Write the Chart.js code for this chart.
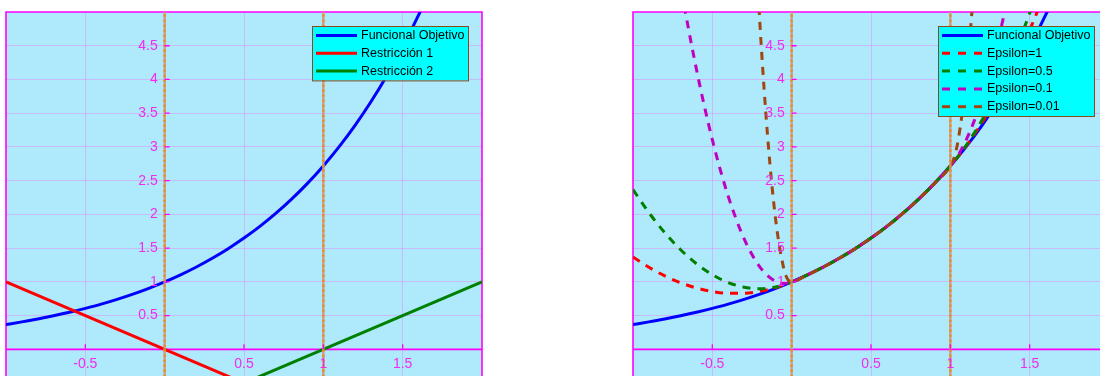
<!DOCTYPE html>
<html lang="es">
<head>
    <meta charset="UTF-8">
    <title>Funcional objetivo y penalización</title>
    <script src="https://cdn.jsdelivr.net/npm/chart.js@4.4.0/dist/chart.umd.min.js"></script>
    <style>
        body {
            margin: 0;
            width: 1100px;
            height: 376px;
            overflow: hidden;
            background: #fff;
            position: relative;
        }
        canvas {
            position: absolute;
            top: 0;
        }
        #leftChart { left: 0; }
        #rightChart { left: 627px; }
    </style>
</head>
<body>
    <canvas id="leftChart" width="490" height="376"></canvas>
    <canvas id="rightChart" width="490" height="376"></canvas>

    <script>
        // axis ticks / grid
        const xTickLabels = [-0.5, 0.5, 1, 1.5];
        const yTickLabels = [0.5, 1, 1.5, 2, 2.5, 3, 3.5, 4, 4.5];
        const gridX = [-0.5, 0, 0.5, 1, 1.5];
        const gridY = [0.5, 1, 1.5, 2, 2.5, 3, 3.5, 4, 4.5];
        const vLines = [0, 1];

        // Funcional Objetivo
        const xObj = [-1, -0.9, -0.8, -0.7, -0.6, -0.5, -0.4, -0.3, -0.2, -0.1, 0, 0.1, 0.2, 0.3, 0.4, 0.5, 0.6, 0.7, 0.8, 0.9, 1, 1.1, 1.2, 1.3, 1.4, 1.5, 1.6, 1.7, 1.8, 1.9, 2];
        const yObj = [0.368, 0.407, 0.449, 0.497, 0.549, 0.607, 0.670, 0.741, 0.819, 0.905, 1.000, 1.105, 1.221, 1.350, 1.492, 1.649, 1.822, 2.014, 2.226, 2.460, 2.718, 3.004, 3.320, 3.669, 4.055, 4.482, 4.953, 5.474, 6.050, 6.686, 7.389];

        // Restricciones
        const xR1 = [-1, 2];
        const yR1 = [1, -2];
        const xR2 = [-1, 2];
        const yR2 = [-2, 1];

        // Epsilon curves
        const xEps1 = [-1, -0.9, -0.8, -0.7, -0.6, -0.5, -0.4, -0.3, -0.2, -0.1, 0, 0.1, 0.2, 0.3, 0.4, 0.5, 0.6, 0.7, 0.8, 0.9, 1, 1.1, 1.2, 1.3, 1.4, 1.5, 1.6, 1.7];
        const yEps1 = [1.368, 1.217, 1.089, 0.987, 0.909, 0.857, 0.830, 0.831, 0.859, 0.915, 1.000, 1.105, 1.221, 1.350, 1.492, 1.649, 1.822, 2.014, 2.226, 2.460, 2.718, 3.014, 3.360, 3.759, 4.215, 4.732, 5.313, 5.964];

        const xEps05 = [-1, -0.9, -0.8, -0.7, -0.6, -0.5, -0.4, -0.3, -0.2, -0.1, 0, 0.1, 0.2, 0.3, 0.4, 0.5, 0.6, 0.7, 0.8, 0.9, 1, 1.1, 1.2, 1.3, 1.4, 1.5, 1.6];
        const yEps05 = [2.368, 2.027, 1.729, 1.477, 1.269, 1.107, 0.990, 0.921, 0.899, 0.925, 1.000, 1.105, 1.221, 1.350, 1.492, 1.649, 1.822, 2.014, 2.226, 2.460, 2.718, 3.024, 3.400, 3.849, 4.375, 4.982, 5.673];

        const xEps01 = [-0.8, -0.7, -0.6, -0.5, -0.4, -0.3, -0.2, -0.1, -0.05, 0, 0.1, 0.2, 0.3, 0.4, 0.5, 0.6, 0.7, 0.8, 0.9, 1, 1.05, 1.1, 1.15, 1.2, 1.25, 1.3, 1.35, 1.4];
        const yEps01 = [6.849, 5.397, 4.149, 3.107, 2.270, 1.641, 1.219, 1.005, 0.976, 1.000, 1.105, 1.221, 1.350, 1.492, 1.649, 1.822, 2.014, 2.226, 2.460, 2.718, 2.883, 3.104, 3.383, 3.720, 4.115, 4.569, 5.082, 5.655];

        const xEps001 = [-0.3, -0.25, -0.2, -0.15, -0.1, -0.05, -0.025, 0, 0.1, 0.2, 0.3, 0.4, 0.5, 0.6, 0.7, 0.8, 0.9, 1, 1.025, 1.05, 1.1, 1.15];
        const yEps001 = [9.741, 7.029, 4.819, 3.111, 1.905, 1.201, 1.038, 1.000, 1.105, 1.221, 1.350, 1.492, 1.649, 1.822, 2.014, 2.226, 2.460, 2.718, 2.850, 3.108, 4.004, 5.408];

        const MAGENTA = '#ff00ff';
        const TICK_TEXT = '#f02cf0';
        const GRID = 'rgba(255, 90, 245, 0.33)';
        const BG = '#aeeafb';
        const VLINE_BASE = 'rgba(205, 150, 120, 0.85)';
        const VLINE_DOT = '#f28a1a';

        const pts = (xs, ys) => xs.map((x, i) => ({ x: x, y: ys[i] }));

        function curve(label, xs, ys, color, dash) {
            return {
                label: label,
                data: pts(xs, ys),
                borderColor: color,
                borderWidth: 3,
                borderDash: dash || [],
                cubicInterpolationMode: 'monotone',
                pointRadius: 0,
                fill: false,
                clip: 0
            };
        }

        // dotted markers at x = 0 and x = 1: a pale base with orange dots on top
        function verticalLines() {
            const out = [];
            vLines.forEach(v => {
                out.push({
                    data: [{ x: v, y: -1 }, { x: v, y: 6 }],
                    borderColor: VLINE_BASE,
                    borderWidth: 2.5,
                    pointRadius: 0,
                    clip: 0
                });
                out.push({
                    data: [{ x: v, y: -1 }, { x: v, y: 6 }],
                    borderColor: VLINE_DOT,
                    borderWidth: 2.5,
                    borderDash: [2, 3],
                    pointRadius: 0,
                    clip: 0
                });
            });
            return out;
        }

        // later datasets on top, like the original plot order
        function stack(list) {
            list.forEach((d, i) => { d.order = list.length - i; });
            return list;
        }

        const axesPlugin = {
            id: 'axesPlugin',
            beforeDraw(chart) {
                const a = chart.chartArea;
                const ctx = chart.ctx;
                ctx.save();
                ctx.fillStyle = BG;
                ctx.fillRect(a.left, a.top, a.right - a.left, a.bottom - a.top);
                ctx.restore();
            },
            beforeDatasetsDraw(chart) {
                const a = chart.chartArea;
                const ctx = chart.ctx;
                const y0 = chart.scales.y.getPixelForValue(0);
                ctx.save();
                ctx.strokeStyle = MAGENTA;
                ctx.lineWidth = 1.6;
                ctx.beginPath();
                ctx.moveTo(a.left, a.bottom);
                ctx.lineTo(a.left, a.top);
                ctx.lineTo(a.right, a.top);
                ctx.lineTo(a.right, a.bottom);
                ctx.moveTo(a.left, y0);
                ctx.lineTo(a.right, y0);
                ctx.stroke();
                ctx.restore();
            },
            afterDatasetsDraw(chart) {
                const ctx = chart.ctx;
                const xs = chart.scales.x, ys = chart.scales.y;
                const x0 = xs.getPixelForValue(0);
                const y0 = ys.getPixelForValue(0);
                ctx.save();
                ctx.strokeStyle = MAGENTA;
                ctx.lineWidth = 1.3;
                ctx.fillStyle = TICK_TEXT;
                ctx.font = '14px "Liberation Sans", Arial, sans-serif';
                ctx.beginPath();
                xTickLabels.forEach(v => {
                    const px = xs.getPixelForValue(v);
                    ctx.moveTo(px, y0);
                    ctx.lineTo(px, y0 - 5);
                });
                yTickLabels.forEach(v => {
                    const py = ys.getPixelForValue(v);
                    ctx.moveTo(x0, py);
                    ctx.lineTo(x0 + 5, py);
                });
                ctx.stroke();
                ctx.textAlign = 'center';
                ctx.textBaseline = 'middle';
                xTickLabels.forEach(v => {
                    ctx.fillText(String(v), xs.getPixelForValue(v), y0 + 15);
                });
                ctx.textAlign = 'right';
                yTickLabels.forEach(v => {
                    ctx.fillText(String(v), x0 - 7, ys.getPixelForValue(v));
                });
                ctx.restore();
            }
        };

        const legendPlugin = {
            id: 'legendPlugin',
            afterDraw(chart, args, opts) {
                const ctx = chart.ctx;
                const items = chart.data.datasets.filter(d => d.label);
                const rowH = 17.8;
                const x = opts.left, y = opts.top, w = opts.width;
                const h = items.length * rowH + 1;
                ctx.save();
                ctx.fillStyle = '#00ffff';
                ctx.fillRect(x, y, w, h);
                ctx.strokeStyle = '#8a4a1e';
                ctx.lineWidth = 1;
                ctx.strokeRect(x + 0.5, y + 0.5, w, h);
                ctx.font = '12.5px "Liberation Sans", Arial, sans-serif';
                ctx.textBaseline = 'middle';
                ctx.textAlign = 'left';
                items.forEach((d, i) => {
                    const cy = y + 9.5 + i * rowH;
                    ctx.strokeStyle = d.borderColor;
                    ctx.lineWidth = 3;
                    ctx.setLineDash(d.borderDash.length ? [8, 8] : []);
                    ctx.beginPath();
                    ctx.moveTo(x + 4, cy);
                    ctx.lineTo(x + 45, cy);
                    ctx.stroke();
                    ctx.setLineDash([]);
                    ctx.fillStyle = '#000';
                    ctx.fillText(d.label, x + 49, cy);
                });
                ctx.restore();
            }
        };

        function makeOptions(legendLeft) {
            return {
                responsive: false,
                animation: false,
                layout: { padding: { left: 6, right: 8, top: 12, bottom: 0 } },
                plugins: {
                    legend: { display: false },
                    tooltip: { enabled: false },
                    legendPlugin: { left: legendLeft, top: 26, width: 156 }
                },
                scales: {
                    x: {
                        type: 'linear',
                        min: -1,
                        max: 2,
                        ticks: { display: false },
                        grid: { color: GRID, lineWidth: 1, drawTicks: false },
                        border: { display: false },
                        afterBuildTicks: s => { s.ticks = gridX.map(v => ({ value: v })); },
                        afterFit: s => { s.height = 0; }
                    },
                    y: {
                        type: 'linear',
                        min: -0.395,
                        max: 5,
                        ticks: { display: false },
                        grid: { color: GRID, lineWidth: 1, drawTicks: false },
                        border: { display: false },
                        afterBuildTicks: s => { s.ticks = gridY.map(v => ({ value: v })); },
                        afterFit: s => { s.width = 0; }
                    }
                }
            };
        }

        new Chart(document.getElementById('leftChart'), {
            type: 'line',
            data: {
                datasets: stack([
                    curve('Funcional Objetivo', xObj, yObj, '#0000ff'),
                    curve('Restricción 1', xR1, yR1, '#ff0000'),
                    curve('Restricción 2', xR2, yR2, '#008000'),
                    ...verticalLines()
                ])
            },
            options: makeOptions(312),
            plugins: [axesPlugin, legendPlugin]
        });

        new Chart(document.getElementById('rightChart'), {
            type: 'line',
            data: {
                datasets: stack([
                    curve('Funcional Objetivo', xObj, yObj, '#0000ff'),
                    curve('Epsilon=1', xEps1, yEps1, '#ff0000', [8, 7]),
                    curve('Epsilon=0.5', xEps05, yEps05, '#008000', [8, 7]),
                    curve('Epsilon=0.1', xEps01, yEps01, '#c000c0', [8, 7]),
                    curve('Epsilon=0.01', xEps001, yEps001, '#a0460f', [8, 7]),
                    ...verticalLines()
                ])
            },
            options: makeOptions(311),
            plugins: [axesPlugin, legendPlugin]
        });
    </script>
</body>
</html>
